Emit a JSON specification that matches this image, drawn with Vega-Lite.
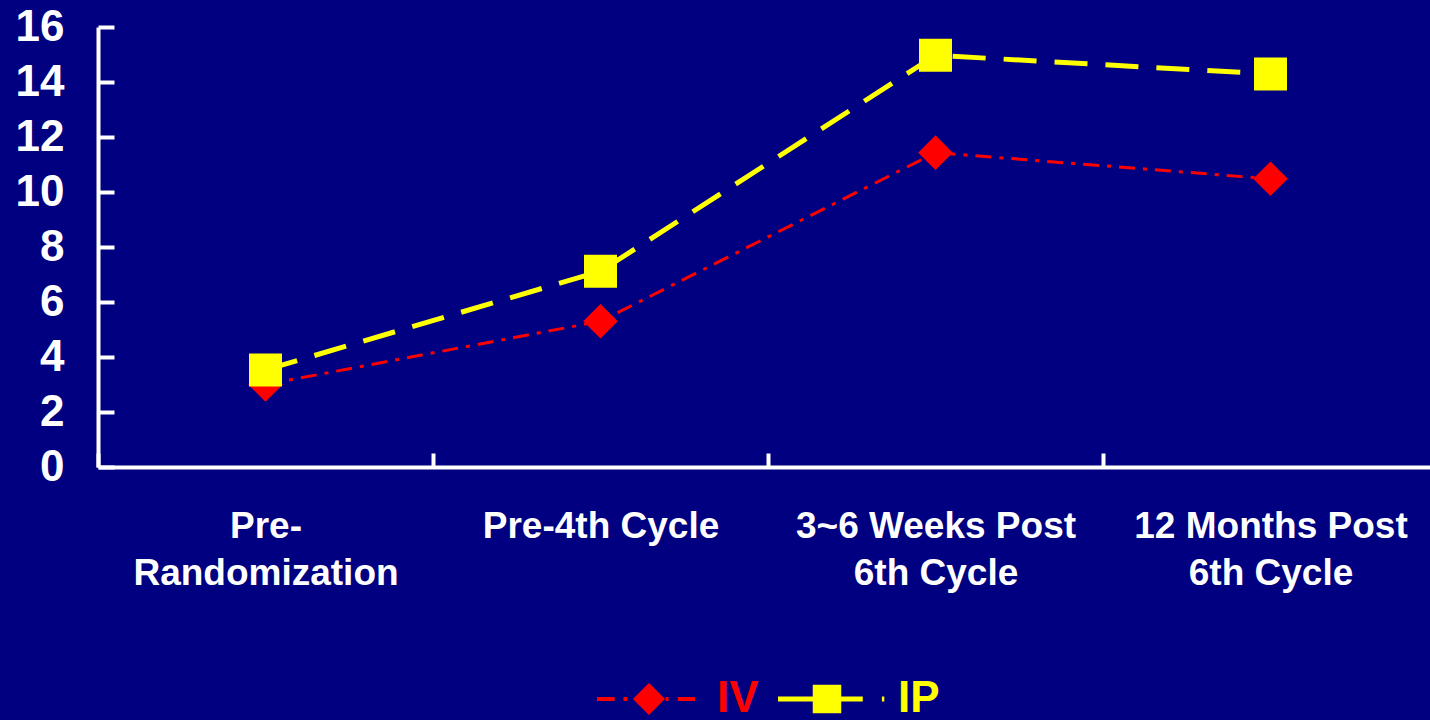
{
  "$schema": "https://vega.github.io/schema/vega-lite/v6.json",
  "width": 1332,
  "height": 440,
  "autosize": {"type": "none"},
  "padding": {"left": 98, "top": 27, "right": 0, "bottom": 253},
  "background": "#000080",
  "config": {
    "view": {"stroke": null},
    "font": "Liberation Sans"
  },
  "data": {
    "values": [
      {"period": "Pre-|Randomization", "group": "IV", "value": 3.0},
      {"period": "Pre-4th Cycle", "group": "IV", "value": 5.3},
      {"period": "3~6 Weeks Post|6th Cycle", "group": "IV", "value": 11.43},
      {"period": "12 Months Post|6th Cycle", "group": "IV", "value": 10.48},
      {"period": "Pre-|Randomization", "group": "IP", "value": 3.53},
      {"period": "Pre-4th Cycle", "group": "IP", "value": 7.12},
      {"period": "3~6 Weeks Post|6th Cycle", "group": "IP", "value": 14.97},
      {"period": "12 Months Post|6th Cycle", "group": "IP", "value": 14.29}
    ]
  },
  "encoding": {
    "x": {
      "field": "period",
      "type": "nominal",
      "sort": null,
      "scale": {"type": "band", "paddingInner": 0, "paddingOuter": 0, "range": [0, 1340]},
      "axis": {
        "title": null,
        "labelAngle": 0,
        "labelExpr": "split(datum.label, '|')",
        "labelFont": "Liberation Sans",
        "labelFontSize": 37,
        "labelFontWeight": "bold",
        "labelColor": "#FFFFFF",
        "labelLineHeight": 47,
        "labelPadding": 55,
        "labelLimit": 400,
        "tickBand": "extent",
        "tickSize": -14,
        "tickWidth": 4,
        "tickColor": "#FFFFFF",
        "domainColor": "#FFFFFF",
        "domainWidth": 4,
        "grid": false
      }
    },
    "y": {
      "field": "value",
      "type": "quantitative",
      "scale": {"domain": [0, 16], "nice": false},
      "axis": {
        "title": null,
        "values": [0, 2, 4, 6, 8, 10, 12, 14, 16],
        "labelFont": "Liberation Sans",
        "labelFontSize": 44,
        "labelFontWeight": "bold",
        "labelColor": "#FFFFFF",
        "labelPadding": 50,
        "tickSize": -16,
        "tickWidth": 4,
        "tickColor": "#FFFFFF",
        "domainColor": "#FFFFFF",
        "domainWidth": 4,
        "grid": false
      }
    },
    "color": {
      "field": "group",
      "type": "nominal",
      "scale": {"domain": ["IV", "IP"], "range": ["#FF0000", "#FFFF00"]},
      "legend": {
        "title": null,
        "orient": "none",
        "legendX": 499,
        "legendY": 623,
        "direction": "horizontal",
        "padding": 0,
        "symbolSize": 9604,
        "labelOffset": 22,
        "columnPadding": 9,
        "labelFont": "Liberation Sans",
        "labelFontSize": 44,
        "labelFontWeight": "bold",
        "labelLimit": 200,
        "encode": {
          "symbols": {
            "update": {
              "x": {"value": 49},
              "y": {"value": 49},
              "shape": {"signal": "datum.value === 'IV' ? 'M-1,0H-0.64M-0.46,0H-0.38M0.06,-0.27L0.33,0L0.06,0.27L-0.21,0ZM0.4,0H0.46M0.65,0H1' : 'M-1,0H0.73M-0.24,-0.24H0.24V0.24H-0.24ZM1.12,0H1.17'"},
              "size": {"value": 9604},
              "fill": {"signal": "datum.value === 'IV' ? '#FF0000' : '#FFFF00'"},
              "stroke": {"signal": "datum.value === 'IV' ? '#FF0000' : '#FFFF00'"},
              "strokeWidth": {"signal": "datum.value === 'IV' ? 4 : 5"},
              "strokeDash": {"value": []},
              "opacity": {"value": 1},
              "fillOpacity": {"value": 1}
            }
          },
          "labels": {
            "update": {
              "x": {"value": 120},
              "y": {"value": 49},
              "align": {"value": "left"},
              "baseline": {"value": "middle"},
              "fill": {"signal": "datum.value === 'IV' ? '#FF0000' : '#FFFF00'"}
            }
          }
        }
      }
    }
  },
  "layer": [
    {
      "transform": [{"filter": "datum.group === 'IV'"}],
      "mark": {"type": "line", "interpolate": "linear", "strokeWidth": 3, "strokeDash": [16, 8, 4, 8]}
    },
    {
      "transform": [{"filter": "datum.group === 'IP'"}],
      "mark": {"type": "line", "interpolate": "linear", "strokeWidth": 5, "strokeDash": [33, 18]}
    },
    {
      "transform": [{"filter": "datum.group === 'IV'"}],
      "mark": {"type": "point", "filled": true, "opacity": 1, "shape": "diamond", "size": 1200}
    },
    {
      "transform": [{"filter": "datum.group === 'IP'"}],
      "mark": {"type": "point", "filled": true, "opacity": 1, "shape": "square", "size": 1089}
    }
  ]
}
